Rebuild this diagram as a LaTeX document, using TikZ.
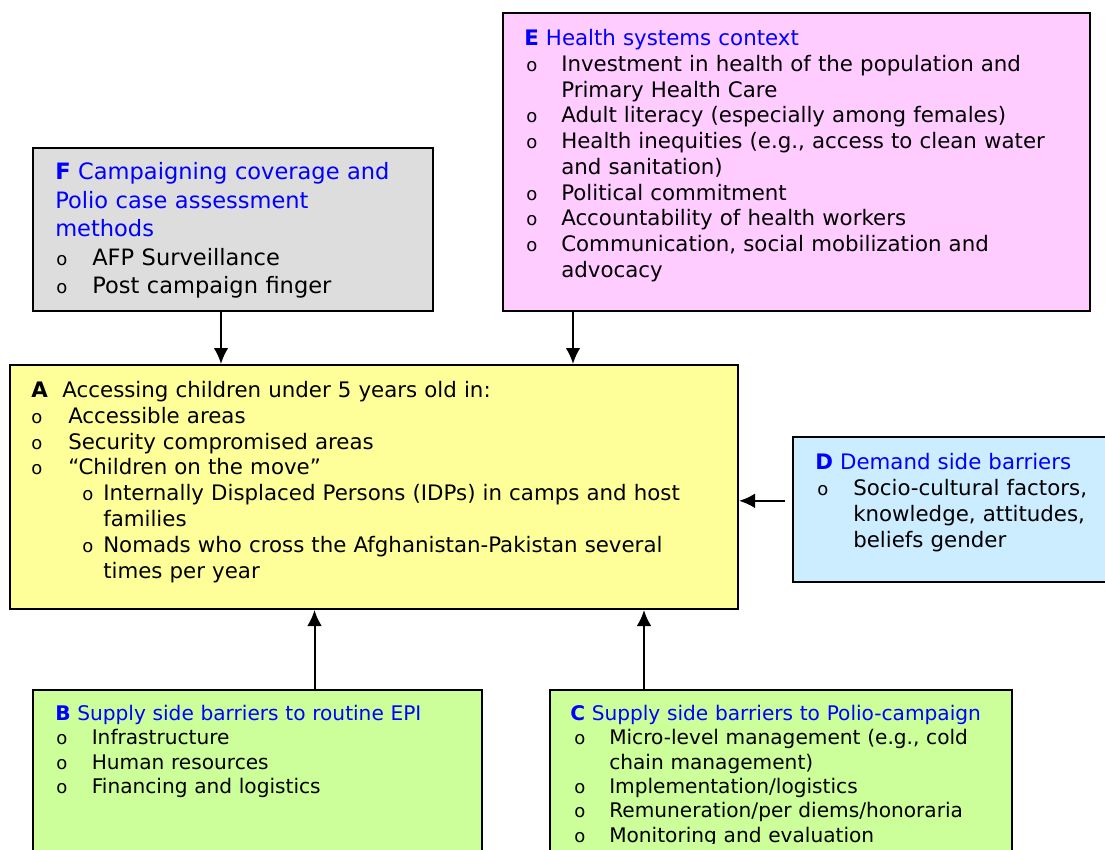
\documentclass[tikz,border=0pt]{standalone}
\usepackage{fontspec}
\setmainfont{DejaVu Sans}
\usetikzlibrary{arrows.meta,fit}
\definecolor{fgray}{HTML}{DDDDDD}
\definecolor{epink}{HTML}{FFCCFF}
\definecolor{ayellow}{HTML}{FFFF99}
\definecolor{dblue}{HTML}{CCECFF}
\definecolor{bgreen}{HTML}{CCFF99}
\definecolor{hblue}{HTML}{0000FF}
\newcommand\bul{{\fontsize{13.5}{10}\selectfont o}}
% #1 text indent, #2 bullet indent, #3 text
\newcommand\itm[3]{\par\noindent\hangindent=#1\hangafter=1\hbox to #1{\hspace*{#2}\bul\hss}#3}
\newcommand\hd[2]{\textcolor{hblue}{\textbf{#1} #2}}
\begin{document}
\begin{tikzpicture}[x=0.75pt,y=-0.75pt,
  box/.style={draw=black,line width=1.5pt,inner sep=0pt},
  txt/.style={anchor=base west,inner sep=0pt,align=left,text width=#1},
  arr/.style={-{Latex[length=12pt,width=11pt]},line width=1.5pt}]
\clip (0,0) rectangle (1105,849);
\fill[white] (0,0) rectangle (1105,849);
% boxes
\node[box,fill=fgray,fit={(33,148) (433,311)}] (F) {};
\node[box,fill=epink,fit={(503,13) (1090,311)}] (E) {};
\node[box,fill=ayellow,fit={(10,365) (738,609)}] (A) {};
\node[box,fill=dblue,fit={(793,437) (1112,582)}] (D) {};
\node[box,fill=bgreen,fit={(33,690) (482,875)}] (B) {};
\node[box,fill=bgreen,fit={(550,690) (1012,875)}] (C) {};
% texts
\node[txt=330pt,font=\fontsize{16.9}{21.4}\selectfont] (Ft) at (55,179.5)
  {\hd{F}{Campaigning coverage and\newline Polio case assessment\newline methods}%
   \itm{27.75pt}{0.75pt}{AFP Surveillance}%
   \itm{27.75pt}{0.75pt}{Post campaign finger}\par};
\node[txt=430pt,font=\fontsize{16}{19.3}\selectfont] (Et) at (524,45.7)
  {\hd{E}{Health systems context}%
   \itm{27.75pt}{1.5pt}{Investment in health of the population and\newline Primary Health Care}%
   \itm{27.75pt}{1.5pt}{Adult literacy (especially among females)}%
   \itm{27.75pt}{1.5pt}{Health inequities (e.g., access to clean water\newline and sanitation)}%
   \itm{27.75pt}{1.5pt}{Political commitment}%
   \itm{27.75pt}{1.5pt}{Accountability of health workers}%
   \itm{27.75pt}{1.5pt}{Communication, social mobilization and\newline advocacy}\par};
\node[txt=530pt,font=\fontsize{16}{19.4}\selectfont] (At) at (31,397.3)
  {\textbf{A}\hspace{11pt}Accessing children under 5 years old in:%
   \itm{27.75pt}{0pt}{Accessible areas}%
   \itm{27.75pt}{0pt}{Security compromised areas}%
   \itm{27.75pt}{0pt}{“Children on the move”}%
   \itm{54pt}{38.25pt}{Internally Displaced Persons (IDPs) in camps and host\newline families}%
   \itm{54pt}{38.25pt}{Nomads who cross the Afghanistan-Pakistan several\newline times per year}\par};
\node[txt=230pt,font=\fontsize{16}{19.5}\selectfont] (Dt) at (815,469.3)
  {\hd{D}{Demand side barriers}%
   \itm{28.5pt}{1.5pt}{Socio-cultural factors,\newline knowledge, attitudes,\newline beliefs gender}\par};
\node[txt=330pt,font=\fontsize{15.1}{18.2}\selectfont] (Bt) at (55,720.7)
  {\hd{B}{Supply side barriers to routine EPI}%
   \itm{27.4pt}{0.75pt}{Infrastructure}%
   \itm{27.4pt}{0.75pt}{Human resources}%
   \itm{27.4pt}{0.75pt}{Financing and logistics}\par};
\begin{scope}
\clip (550,690) rectangle (1012,843.5);
\node[txt=340pt,font=\fontsize{15.1}{18.2}\selectfont] (Ct) at (570,720.7)
  {\hd{C}{Supply side barriers to Polio-campaign}%
   \itm{29.25pt}{3pt}{Micro-level management (e.g., cold\newline chain management)}%
   \itm{29.25pt}{3pt}{Implementation/logistics}%
   \itm{29.25pt}{3pt}{Remuneration/per diems/honoraria}%
   \itm{29.25pt}{3pt}{Monitoring and evaluation}\par};
\end{scope}
% arrows
\draw[arr] ([xshift=-9pt]F.south) -- ([xshift=-9pt]F.south |- A.north);
\draw[arr] ([xshift=53.25pt]E.south west) -- ([xshift=53.25pt]E.south west |- A.north);
\draw[arr] ([xshift=-5pt,yshift=6.5pt]D.west) -- ([yshift=6.5pt]D.west -| A.east);
\draw[arr] ([xshift=42.75pt]B.north) -- ([xshift=42.75pt]B.north |- A.south);
\draw[arr] ([xshift=-102.75pt]C.north) -- ([xshift=-102.75pt]C.north |- A.south);
\end{tikzpicture}
\end{document}
